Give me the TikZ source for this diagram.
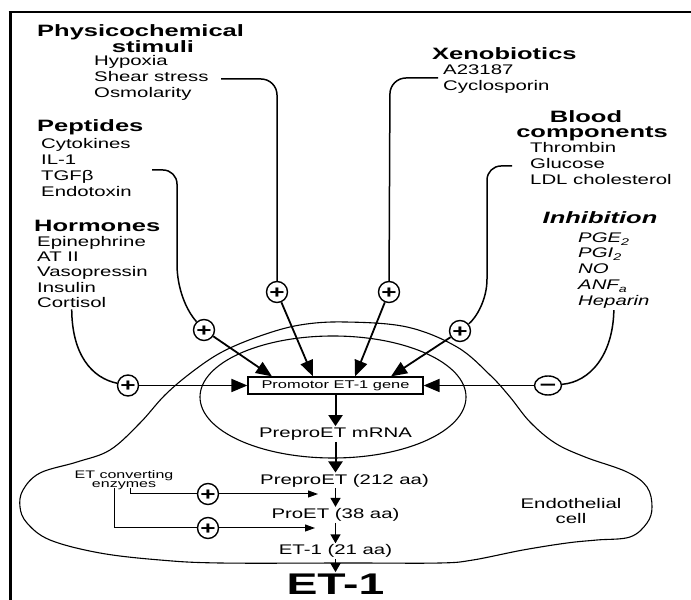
\documentclass[tikz,border=0pt]{standalone}
\usepackage{fontspec}
\setmainfont{Liberation Sans}[FakeStretch=1.46]
\newfontfamily\kopffont{Liberation Sans}[FakeStretch=1.55]
\usetikzlibrary{arrows.meta,positioning,shapes.geometric}

\begin{document}
\begin{tikzpicture}[x=1bp,y=1bp]
\useasboundingbox (0,0) rectangle (691,600);
\tikzstyle{kopf}=[font=\kopffont\bfseries\fontsize{16.5}{18}\selectfont,inner sep=0pt]
\tikzstyle{eintrag}=[anchor=base west,font=\fontsize{14}{16}\selectfont,inner sep=1bp]
\tikzstyle{hemmer}=[eintrag,font=\itshape\fontsize{14}{16}\selectfont]
\tikzstyle{plus}=[circle,draw,line width=1.4bp,fill=white,minimum size=21bp,inner sep=0pt,font=\bfseries\fontsize{18}{18}\selectfont,text height=12.5bp,text depth=0pt]
\tikzstyle{minus}=[ellipse,draw,line width=1.4bp,fill=white,minimum width=27bp,minimum height=19bp,inner sep=0pt,font=\bfseries\fontsize{20}{20}\selectfont,text height=11bp,text depth=0pt]
\tikzstyle{gen}=[draw,line width=1.2bp,fill=white,minimum width=175bp,minimum height=17bp,inner sep=0pt,font=\fontsize{11.3}{12}\selectfont]
\tikzstyle{stufe}=[inner sep=1bp,text height=10.5bp,text depth=3bp,font=\fontsize{14}{16}\selectfont]
\tikzstyle{gross}=[inner sep=0.5bp,text height=21.5bp,text depth=0pt,font=\kopffont\bfseries\fontsize{30}{30}\selectfont]
\tikzstyle{leitung}=[line width=1.5bp]
\tikzstyle{pf}=[line width=1.8bp,-{Triangle[length=16bp,width=13bp]}]
\tikzstyle{kette}=[line width=2bp,-{Triangle[length=11bp,width=14bp]}]
\tikzstyle{kettefein}=[line width=1.5bp,-{Triangle[length=9bp,width=10bp]}]
\tikzstyle{enzpf}=[line width=1bp,-{Triangle[length=10bp,width=7bp]}]

% Rahmen
\draw[line width=3bp] (10,0) -- (10,588);
\draw[line width=2.5bp] (8.5,588) -- (691,588);

% Zelle und Kern
\draw[line width=1.1bp] plot[smooth cycle,tension=0.6] coordinates {(345,278) (407,273) (457,253) (490,225) (510,203) (530,178) (555,157) (585,143) (627,128) (647,113) (652,93) (647,77) (630,63) (597,60) (567,57) (523,50) (473,40) (440,37) (350,37) (220,37) (160,40) (100,47) (50,60) (27,77) (20,93) (23,110) (40,127) (77,138) (110,150) (140,177) (165,205) (192,228) (222,248) (260,264) (300,275)};
\draw[line width=1.1bp] (333,203) ellipse [x radius=133,y radius=61];
\node[font=\fontsize{14}{15}\selectfont,align=center] (zelle) at (571,89) {Endothelial\\cell};

% linke Seite
\node[kopf,anchor=base west] (physiko) at (37,563) {Physicochemical};
\node[kopf,anchor=base] (stimuli) at (153,547) {stimuli};
\node[eintrag] (hypoxie) at (93,534) {Hypoxia};
\node[eintrag] (scher) at (93,518) {Shear stress};
\node[eintrag] (osmo) at (93,502) {Osmolarity};

\node[kopf,anchor=base west] (peptide) at (37,468) {Peptides};
\node[eintrag] (zytokine) at (40,451) {Cytokines};
\node[eintrag] (il) at (40,435) {IL-1};
\node[eintrag] (tgf) at (40,419) {TGFβ};
\node[eintrag] (endotox) at (40,403) {Endotoxin};

\node[kopf,anchor=base west] (hormone) at (34,368) {Hormones};
\node[eintrag] (epi) at (36,353) {Epinephrine};
\node[eintrag] (at) at (36,338) {AT II};
\node[eintrag] (vaso) at (36,323) {Vasopressin};
\node[eintrag] (insulin) at (36,307) {Insulin};
\node[eintrag] (cortisol) at (36,292) {Cortisol};

% rechte Seite
\node[kopf,anchor=base west] (xeno) at (432,540) {Xenobiotics};
\node[eintrag] (a23) at (442,525) {A23187};
\node[eintrag] (cyclo) at (442,509) {Cyclosporin};

\node[kopf,anchor=base] (blut) at (586,477) {Blood};
\node[kopf,anchor=base] (komp) at (592,462) {components};
\node[eintrag] (thrombin) at (529,447) {Thrombin};
\node[eintrag] (glucose) at (529,431) {Glucose};
\node[eintrag] (ldl) at (529,415) {LDL cholesterol};

\node[kopf,anchor=base,font=\kopffont\bfseries\itshape\fontsize{16.5}{18}\selectfont] (hemmung) at (600,376) {Inhibition};
\node[hemmer] (pge) at (577,357) {PGE\textsubscript{2}};
\node[hemmer] (pgi) at (577,342) {PGI\textsubscript{2}};
\node[hemmer] (no) at (577,326) {NO};
\node[hemmer] (anf) at (577,310) {ANF\textsubscript{a}};
\node[hemmer] (heparin) at (577,294) {Heparin};

% Kette
\node[gen] (box) at (335.5,214.5) {Promotor ET-1 gene};
\node[stufe,below=31.5bp of box] (mrna) {PreproET mRNA};
\node[stufe,below=30.5bp of mrna,xshift=9bp] (pp) {PreproET (212 aa)};
\node[stufe,below=18.5bp of pp,xshift=-9bp] (proet) {ProET (38 aa)};
\node[stufe,below=20.5bp of proet] (et21) {ET-1 (21 aa)};
\node[gross,below=13bp of et21] (et1) {ET-1};

\draw[kette] (box) -- (mrna);
\draw[kette] (mrna.south) -- (mrna.south |- pp.north);
\draw[kettefein] (proet.north |- pp.south) -- (proet);
\draw[kettefein] (proet) -- (et21);
\draw[kettefein] (et21) -- (et1);

% Plus / Minus
\node[plus] (plusA) at (277,308) {+};
\node[plus] (plusB) at (204,270) {+};
\node[plus] (plusC) at (128,214.5) {+};
\node[plus] (plusD) at (389,308) {+};
\node[plus] (plusE) at (460,269) {+};
\node[minus] (minusF) at (548,214.5) {–};

\coordinate (scherStart) at (221,521);
\coordinate (pepStart) at (152,430);
\coordinate (xenoStart) at (438,522);
\coordinate (blutStart) at (512,434);
\coordinate (inA) at ([xshift=-22.5bp]box.north);
\coordinate (inB) at ([xshift=-63.5bp]box.north);
\coordinate (inD) at ([xshift=19.5bp]box.north);
\coordinate (inE) at ([xshift=55.5bp]box.north);

\draw[leitung,rounded corners=16bp] (scherStart) -- (277,521) -- (plusA);
\draw[leitung,rounded corners=14bp] (pepStart) -- (177,430) -- (177,350) .. controls (177,312) and (186,290) .. (plusB);
\draw[leitung] (cortisol.south) .. controls (72,245) and (92,222) .. (plusC);
\draw[leitung,rounded corners=16bp] (xenoStart) -- (390,522) -- (plusD);
\draw[leitung,rounded corners=14bp] (blutStart) -- (487,434) -- (487,335) .. controls (487,300) and (476,282) .. (plusE);
\draw[leitung] (heparin.south) .. controls (613,245) and (590,218) .. (minusF);

\draw[pf] (plusA) -- (inA);
\draw[pf] (plusB) -- (inB);
\draw[pf] (plusC) -- (box);
\draw[pf] (plusD) -- (inD);
\draw[pf] (plusE) -- (inE);
\draw[pf] (minusF) -- (box);

% Enzyme
\node[font=\fontsize{11}{9.5}\selectfont,align=center,inner sep=0pt,anchor=north] (enzym) at (124,130) {ET converting\\enzymes};
\node[plus] (plusG) at (208,106) {+};
\node[plus] (plusH) at (208,72) {+};
\coordinate (enzA) at (130,112);
\coordinate (enzB) at (114,112);
\coordinate (tipG) at (318,106);
\coordinate (tipH) at (315,72);
\draw[line width=1bp] (enzA) -- (130,106) -- (plusG);
\draw[line width=1bp] (enzB) -- (114,72) -- (plusH);
\draw[enzpf] (plusG) -- (tipG);
\draw[enzpf] (plusH) -- (tipH);
\end{tikzpicture}
\end{document}
